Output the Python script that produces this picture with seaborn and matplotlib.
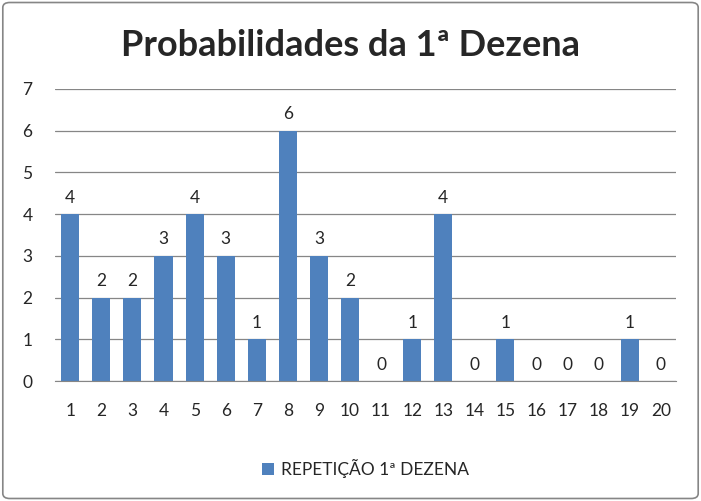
import matplotlib.pyplot as plt
import pandas as pd
import seaborn as sns
from matplotlib.patches import FancyBboxPatch

dezenas = [str(i) for i in range(1, 21)]
repeticoes = [4, 2, 2, 3, 4, 3, 1, 6, 3, 2, 0, 1, 4, 0, 1, 0, 0, 0, 1, 0]
serie = "REPETIÇÃO 1ª DEZENA"
titulo = "Probabilidades da 1ª Dezena"

df = pd.DataFrame({"dezena": dezenas, "repeticao": repeticoes, "serie": serie})

sns.set_style("white")
plt.rcParams["font.family"] = ["Lato", "DejaVu Sans"]

fig = plt.figure(figsize=(7.01, 5.01), dpi=100)
fig.patches.append(FancyBboxPatch((0.004, 0.005), 0.992, 0.99, boxstyle="round,pad=0,rounding_size=0.01",
                                  transform=fig.transFigure, fill=False, edgecolor="#868686", linewidth=1.2))
ax = fig.add_axes([0.078, 0.2395, 0.887, 0.583])
sns.barplot(data=df, x="dezena", y="repeticao", hue="serie", palette=["#4F81BD"],
            width=0.58, saturation=1, linewidth=0, ax=ax)

for c in ax.containers:
    ax.bar_label(c, padding=6, fontsize=12.5)

ax.set_ylim(0, 7)
ax.set_yticks(range(0, 8))
ax.yaxis.grid(True, color="#868686", linewidth=0.9)
ax.set_axisbelow(True)
for s in ["top", "right", "left"]:
    ax.spines[s].set_visible(False)
ax.spines["bottom"].set_color("#868686")
ax.tick_params(axis="x", labelsize=12.5, length=0, pad=16)
ax.tick_params(axis="y", labelsize=12.5, length=0, pad=16)
ax.set_xlabel("")
ax.set_ylabel("")

fig.text(0.5, 0.91, titulo, ha="center", va="center", fontsize=26, fontweight="bold")
ax.legend(loc="center", bbox_to_anchor=(0.5, -0.3), frameon=False, fontsize=12.5,
          handlelength=0.7, handleheight=0.7, handletextpad=0.4)

fig.savefig("out.png", dpi=100)
